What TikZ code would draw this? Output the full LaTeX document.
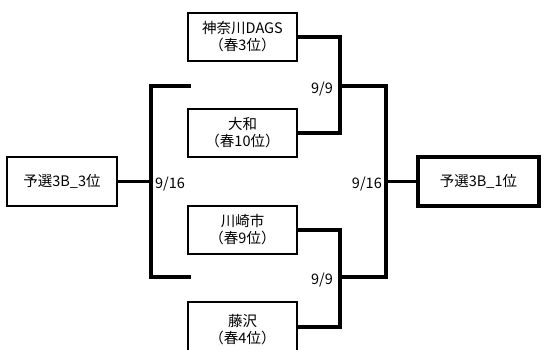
\documentclass[tikz,border=0pt]{standalone}
\usepackage{fontspec}
\setmainfont{Noto Sans CJK JP}
\begin{document}
\begin{tikzpicture}[x=1pt,y=-1pt,
  team/.style={draw, line width=1.8pt, minimum width=109pt, minimum height=48pt, inner sep=0pt, align=center, font=\fontsize{14.5}{17}\selectfont},
  seed/.style={draw, line width=1.8pt, minimum width=110pt, minimum height=49pt, inner sep=0pt, align=center, font=\fontsize{14.5}{17}\selectfont},
  final/.style={draw, line width=4pt, minimum width=121pt, minimum height=49pt, inner sep=0pt, align=center, font=\fontsize{14.5}{17}\selectfont},
  conn/.style={line width=3.5pt, line cap=rect},
  score/.style={font=\fontsize{14.5}{16}\selectfont, inner sep=0pt}
]
\useasboundingbox[fill=white] (0,0) rectangle (551,350);
% team boxes
\node[team] (k) at (242.5,37) {神奈川DAGS\\（春3位）};
\node[team] (y) at (242.5,133) {大和\\（春10位）};
\node[team] (w) at (242.5,230) {川崎市\\（春9位）};
\node[team, minimum height=55pt] (f) at (242.5,329.5) {藤沢\\（春4位）};
% seeded boxes
\node[seed] (l) at (62,181.5) {予選3B\_3位};
\node[final] (r) at (478.5,181.5) {予選3B\_1位};
% junction coordinates
\coordinate (ja) at (340,86);
\coordinate (jb) at (340,277);
\coordinate (jr) at (386,181.5);
\coordinate (jl) at (151,181.5);
\coordinate (lt) at (189,86);
\coordinate (lb) at (189,277);
% connectors
\draw[conn] (k.east) -| (ja) |- (y.east);
\draw[conn] (w.east) -| (jb) |- ([yshift=2.5pt]f.east);
\draw[conn] (ja) -| (jr) |- (jb);
\draw[conn] (jr) -- (r.west);
\draw[conn] (lt) -| (jl) |- (lb);
\draw[conn] (l.east) -- (jl);
% scores
\node[score, anchor=east] (s1) at (333,89) {9/9};
\node[score, anchor=east] (s2) at (333,280) {9/9};
\node[score, anchor=west] (s3) at (155,184) {9/16};
\node[score, anchor=east] (s4) at (382,184) {9/16};
\end{tikzpicture}
\end{document}
